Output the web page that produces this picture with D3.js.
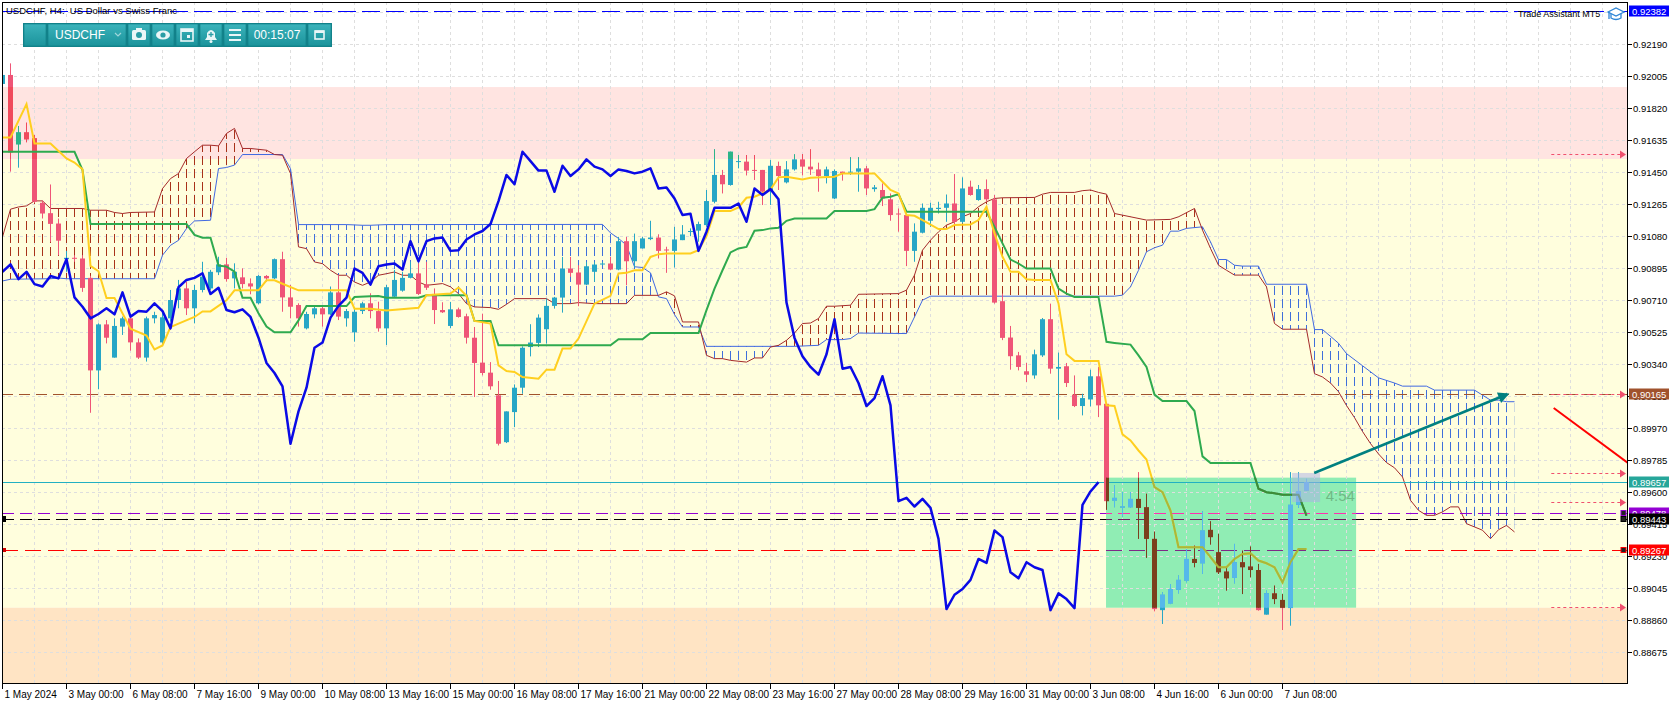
<!DOCTYPE html>
<html lang="en">
<head>
<meta charset="UTF-8">
<title>USDCHF H4</title>
<script src="https://d3js.org/d3.v7.min.js"></script>
<style>
  body { margin: 0; background: #fff; font-family: "Liberation Sans", Arial, sans-serif; }
  svg text { font-family: "Liberation Sans", Arial, sans-serif; }
</style>
</head>
<body>
<svg id="chart" width="1679" height="705"></svg>
<script>
// ---- candles (bar 0 = 1 May 16:00, H4) ----
const opens = [
0.91959,0.92011,0.91610,0.91679,0.91645,0.91272,0.91212,0.91152,0.90946,0.90954,
0.90950,0.90838,0.90303,0.90569,0.90377,0.90556,0.90604,0.90465,0.90377,0.90604,
0.90465,0.90604,0.90710,0.90777,0.90662,0.90768,0.90777,0.90870,0.90916,0.90835,
0.90841,0.90806,0.90691,0.90849,0.90835,0.90946,0.90725,0.90681,0.90546,0.90627,
0.90662,0.90627,0.90754,0.90604,0.90523,0.90646,0.90691,0.90646,0.90546,0.90729,
0.90764,0.90838,0.90864,0.90800,0.90745,0.90652,0.90560,0.90656,0.90616,0.90492,
0.90348,0.90290,0.90159,0.89888,0.90062,0.90203,0.90438,0.90462,0.90541,0.90676,
0.90724,0.90892,0.90869,0.90799,0.90873,0.90915,0.90921,0.90886,0.91050,0.90934,
0.91008,0.91062,0.91071,0.91002,0.90994,0.91056,0.91103,0.91111,0.91143,0.91278,
0.91433,0.91375,0.91510,0.91510,0.91462,0.91462,0.91346,0.91485,0.91390,0.91465,
0.91523,0.91481,0.91465,0.91427,0.91297,0.91452,0.91446,0.91452,0.91471,0.91351,
0.91346,0.91292,0.91210,0.91201,0.90994,0.91099,0.91168,0.91236,0.91243,0.91268,
0.91162,0.91365,0.91288,0.91351,0.91292,0.90703,0.90493,0.90390,0.90298,0.90274,
0.90390,0.90599,0.90313,0.90327,0.90163,0.90097,0.90135,0.90269,0.90110,0.89551,
0.89512,0.89512,0.89560,0.89512,0.89329,0.88917,0.88956,0.89035,0.89088,0.89213,
0.89188,0.89381,0.89252,0.89140,0.89103,0.89194,0.89169,0.89149,0.88891,0.89014,
0.88976,0.88929,0.89526,0.89609];
const highs = [
0.92015,0.92078,0.91716,0.91735,0.91664,0.91284,0.91378,0.91181,0.90994,0.90969,
0.90969,0.90850,0.90575,0.90594,0.90604,0.90614,0.90617,0.90488,0.90614,0.90642,
0.90642,0.90768,0.90826,0.90816,0.90797,0.90931,0.90884,0.90960,0.90954,0.90922,
0.90893,0.90835,0.90854,0.90854,0.90950,0.90989,0.90797,0.90691,0.90642,0.90671,
0.90671,0.90788,0.90854,0.90658,0.90662,0.90700,0.90749,0.90700,0.90797,0.90884,
0.90873,0.90931,0.90922,0.90931,0.90777,0.90697,0.90699,0.90666,0.90631,0.90554,
0.90631,0.90351,0.90242,0.90066,0.90222,0.90442,0.90570,0.90627,0.90718,0.90728,
0.90959,0.90959,0.90911,0.90930,0.90930,0.90930,0.90959,0.91075,0.91075,0.91094,
0.91075,0.91168,0.91090,0.91018,0.91133,0.91143,0.91124,0.91163,0.91346,0.91581,
0.91462,0.91567,0.91548,0.91548,0.91548,0.91462,0.91519,0.91510,0.91513,0.91552,
0.91554,0.91581,0.91504,0.91481,0.91465,0.91452,0.91535,0.91535,0.91485,0.91375,
0.91384,0.91326,0.91239,0.91210,0.91153,0.91268,0.91272,0.91278,0.91320,0.91438,
0.91419,0.91400,0.91375,0.91407,0.91317,0.90747,0.90560,0.90410,0.90346,0.90423,
0.90606,0.90689,0.90406,0.90346,0.90274,0.90168,0.90307,0.90323,0.90110,0.89638,
0.89599,0.89599,0.89715,0.89590,0.89371,0.89020,0.89068,0.89117,0.89271,0.89290,
0.89489,0.89431,0.89358,0.89165,0.89300,0.89261,0.89285,0.89184,0.89030,0.89059,
0.89010,0.89715,0.89715,0.89676];
const lows = [
0.91955,0.91452,0.91475,0.91622,0.91272,0.91181,0.91046,0.90969,0.90873,0.90931,
0.90757,0.90058,0.90194,0.90459,0.90377,0.90508,0.90417,0.90369,0.90354,0.90575,
0.90450,0.90585,0.90662,0.90623,0.90575,0.90754,0.90768,0.90854,0.90816,0.90777,
0.90777,0.90743,0.90685,0.90816,0.90831,0.90642,0.90604,0.90556,0.90540,0.90604,
0.90556,0.90623,0.90594,0.90556,0.90469,0.90629,0.90604,0.90527,0.90450,0.90723,
0.90758,0.90835,0.90739,0.90768,0.90571,0.90635,0.90548,0.90608,0.90458,0.90149,
0.90274,0.90191,0.89869,0.89883,0.89975,0.90168,0.90384,0.90438,0.90458,0.90660,
0.90637,0.90844,0.90674,0.90795,0.90815,0.90911,0.90882,0.90882,0.90795,0.90898,
0.91008,0.91056,0.90950,0.90867,0.90898,0.91056,0.91079,0.91047,0.91133,0.91269,
0.91326,0.91371,0.91471,0.91430,0.91404,0.91259,0.91259,0.91346,0.91384,0.91458,
0.91430,0.91433,0.91336,0.91384,0.91293,0.91400,0.91433,0.91336,0.91317,0.91336,
0.91253,0.91168,0.91105,0.90906,0.90931,0.91095,0.91133,0.91210,0.91162,0.91143,
0.91153,0.91313,0.91284,0.91278,0.90689,0.90478,0.90307,0.90303,0.90236,0.90255,
0.90381,0.90284,0.90018,0.90207,0.90091,0.90043,0.90095,0.90033,0.89497,0.89512,
0.89458,0.89508,0.89329,0.89219,0.88910,0.88837,0.88952,0.89014,0.89078,0.89165,
0.89126,0.89296,0.89126,0.89030,0.89072,0.89010,0.89107,0.88914,0.88891,0.88952,
0.88802,0.88827,0.89508,0.89609];
const closes = [
0.92011,0.91564,0.91679,0.91639,0.91278,0.91210,0.91150,0.91053,0.90954,0.90950,
0.90780,0.90303,0.90569,0.90492,0.90560,0.90604,0.90465,0.90377,0.90604,0.90623,
0.90610,0.90710,0.90777,0.90662,0.90768,0.90845,0.90873,0.90916,0.90831,0.90873,
0.90802,0.90788,0.90849,0.90835,0.90946,0.90725,0.90671,0.90604,0.90629,0.90662,
0.90627,0.90754,0.90614,0.90646,0.90642,0.90691,0.90646,0.90546,0.90784,0.90826,
0.90838,0.90864,0.90745,0.90781,0.90652,0.90639,0.90656,0.90612,0.90492,0.90346,
0.90288,0.90211,0.89879,0.90066,0.90203,0.90434,0.90464,0.90608,0.90676,0.90724,
0.90892,0.90867,0.90799,0.90905,0.90915,0.90921,0.90886,0.91050,0.90934,0.91050,
0.91066,0.91071,0.90994,0.90998,0.91060,0.91089,0.91109,0.91149,0.91282,0.91433,
0.91379,0.91567,0.91513,0.91458,0.91458,0.91336,0.91486,0.91427,0.91465,0.91523,
0.91481,0.91465,0.91427,0.91465,0.91456,0.91442,0.91452,0.91471,0.91355,0.91361,
0.91297,0.91201,0.91208,0.90994,0.91105,0.91243,0.91243,0.91243,0.91268,0.91162,
0.91355,0.91317,0.91351,0.91292,0.90695,0.90491,0.90385,0.90323,0.90278,0.90396,
0.90599,0.90313,0.90323,0.90230,0.90097,0.90143,0.90269,0.90101,0.89547,0.89566,
0.89516,0.89560,0.89508,0.89329,0.88923,0.89006,0.89039,0.89092,0.89213,0.89190,
0.89377,0.89339,0.89136,0.89101,0.89194,0.89165,0.89149,0.88917,0.89014,0.88981,
0.88929,0.89526,0.89603,0.89657];

// ---- ichimoku lines, read as [bar, price] vertices ----
const tenkan = [[0,0.91650],[1,0.91650],[3,0.91843],[4,0.91615],[6,0.91615],[8,0.91528],[9,0.91505],[10,0.91466],[11,0.90907],[12,0.90876],[13,0.90721],[14,0.90721],[16,0.90544],[18,0.90505],[19,0.90424],[20,0.90447],[21,0.90554],[22,0.90573],[24,0.90612],[25,0.90644],[26,0.90644],[28,0.90708],[29,0.90766],[32,0.90766],[33,0.90824],[34,0.90824],[35,0.90804],[37,0.90766],[43,0.90766],[44,0.90660],[46,0.90660],[48,0.90650],[52,0.90665],[53,0.90737],[56,0.90747],[57,0.90782],[58,0.90734],[59,0.90589],[61,0.90574],[62,0.90332],[63,0.90299],[64,0.90294],[65,0.90265],[67,0.90255],[68,0.90307],[69,0.90307],[70,0.90429],[71,0.90429],[72,0.90487],[74,0.90689],[76,0.90734],[77,0.90863],[78,0.90867],[79,0.90882],[80,0.90882],[81,0.90959],[82,0.90975],[83,0.90979],[86,0.90979],[87,0.90998],[88,0.91079],[89,0.91224],[91,0.91224],[92,0.91245],[93,0.91301],[94,0.91307],[95,0.91326],[96,0.91349],[97,0.91419],[98,0.91423],[100,0.91407],[101,0.91417],[104,0.91423],[105,0.91442],[109,0.91442],[110,0.91394],[111,0.91346],[112,0.91326],[113,0.91201],[114,0.91197],[115,0.91172],[117,0.91120],[118,0.91120],[119,0.91143],[121,0.91147],[122,0.91172],[123,0.91249],[124,0.91095],[125,0.90960],[126,0.90873],[127,0.90873],[128,0.90830],[129,0.90825],[131,0.90825],[132,0.90690],[133,0.90396],[134,0.90358],[137,0.90358],[138,0.90101],[139,0.90097],[140,0.89933],[141,0.89898],[142,0.89840],[143,0.89788],[144,0.89628],[145,0.89599],[146,0.89493],[147,0.89281],[150,0.89281],[151,0.89223],[152,0.89165],[153,0.89165],[154,0.89213],[155,0.89242],[156,0.89246],[157,0.89204],[158,0.89188],[159,0.89165],[160,0.89078],[161,0.89194],[162,0.89271],[163,0.89271]];
const kijun = [[0,0.91567],[9,0.91567],[10,0.91461],[11,0.91149],[23,0.91149],[24,0.91086],[25,0.91070],[26,0.91070],[27,0.90909],[28,0.90903],[29,0.90874],[30,0.90723],[31,0.90723],[32,0.90633],[33,0.90556],[34,0.90523],[36,0.90523],[37,0.90592],[38,0.90675],[43,0.90675],[44,0.90727],[46,0.90731],[47,0.90733],[48,0.90723],[52,0.90723],[53,0.90737],[58,0.90738],[59,0.90589],[61,0.90589],[62,0.90448],[76,0.90448],[77,0.90483],[80,0.90483],[81,0.90519],[87,0.90519],[88,0.90651],[89,0.90776],[90,0.90882],[91,0.90985],[92,0.91008],[93,0.91017],[94,0.91110],[95,0.91114],[96,0.91124],[97,0.91127],[98,0.91168],[99,0.91181],[103,0.91181],[104,0.91224],[108,0.91224],[109,0.91235],[110,0.91301],[111,0.91307],[112,0.91322],[113,0.91220],[123,0.91220],[124,0.91133],[125,0.91037],[126,0.90944],[127,0.90921],[128,0.90892],[131,0.90892],[132,0.90776],[133,0.90747],[134,0.90728],[137,0.90728],[138,0.90468],[139,0.90462],[141,0.90452],[142,0.90390],[143,0.90323],[144,0.90163],[145,0.90126],[148,0.90126],[149,0.90068],[150,0.89806],[151,0.89767],[156,0.89767],[157,0.89619],[158,0.89599],[159,0.89593],[160,0.89584],[162,0.89584],[163,0.89464]];
const spanA = [[0,0.90820],[1,0.90830],[6,0.90833],[7,0.90837],[8,0.90833],[19,0.90833],[20,0.90969],[21,0.91026],[22,0.91055],[23,0.91123],[24,0.91167],[26,0.91171],[27,0.91470],[28,0.91476],[29,0.91490],[30,0.91551],[35,0.91551],[36,0.91470],[37,0.91146],[43,0.91146],[45,0.91142],[46,0.91142],[48,0.91146],[75,0.91147],[76,0.91098],[77,0.91066],[78,0.91027],[79,0.90902],[80,0.90898],[81,0.90867],[82,0.90728],[83,0.90718],[84,0.90626],[85,0.90554],[87,0.90554],[88,0.90442],[99,0.90442],[102,0.90448],[103,0.90481],[105,0.90481],[106,0.90487],[107,0.90519],[113,0.90516],[114,0.90612],[115,0.90709],[116,0.90732],[139,0.90732],[140,0.90738],[141,0.90786],[142,0.90882],[143,0.90989],[144,0.91012],[145,0.91027],[146,0.91108],[147,0.91108],[148,0.91124],[150,0.91133],[151,0.91046],[152,0.90944],[153,0.90944],[154,0.90911],[155,0.90906],[157,0.90906],[158,0.90801],[163,0.90801],[164,0.90539],[165,0.90539],[166,0.90500],[167,0.90460],[168,0.90400],[170,0.90330],[172,0.90260],[174,0.90230],[175,0.90212],[178,0.90212],[179,0.90189],[184,0.90189],[185,0.90160],[186,0.90131],[187,0.90131],[188,0.90122],[189,0.90122]];
const spanB = [[0,0.91075],[1,0.91235],[2,0.91248],[3,0.91254],[4,0.91283],[5,0.91283],[6,0.91239],[10,0.91239],[11,0.91229],[13,0.91229],[14,0.91216],[15,0.91210],[16,0.91216],[19,0.91219],[20,0.91354],[21,0.91412],[22,0.91441],[23,0.91528],[24,0.91567],[25,0.91605],[26,0.91605],[27,0.91601],[28,0.91673],[29,0.91702],[30,0.91586],[31,0.91586],[33,0.91576],[34,0.91551],[35,0.91547],[36,0.91441],[37,0.91017],[38,0.91007],[39,0.90930],[40,0.90920],[41,0.90882],[42,0.90853],[43,0.90853],[44,0.90814],[45,0.90795],[46,0.90814],[47,0.90853],[48,0.90862],[49,0.90872],[50,0.90853],[51,0.90853],[52,0.90814],[53,0.90795],[55,0.90805],[56,0.90786],[57,0.90747],[58,0.90689],[59,0.90670],[61,0.90666],[62,0.90656],[63,0.90685],[64,0.90718],[68,0.90718],[69,0.90689],[71,0.90689],[72,0.90695],[74,0.90689],[78,0.90689],[79,0.90737],[82,0.90737],[83,0.90757],[84,0.90734],[85,0.90583],[87,0.90583],[88,0.90390],[89,0.90371],[90,0.90371],[91,0.90361],[93,0.90351],[94,0.90375],[95,0.90375],[96,0.90438],[97,0.90448],[98,0.90477],[99,0.90519],[100,0.90574],[101,0.90577],[102,0.90603],[103,0.90674],[104,0.90674],[106,0.90680],[107,0.90743],[112,0.90747],[113,0.90767],[114,0.90854],[115,0.90998],[116,0.91056],[117,0.91104],[118,0.91143],[119,0.91162],[120,0.91191],[121,0.91210],[122,0.91249],[123,0.91278],[124,0.91297],[125,0.91301],[129,0.91303],[130,0.91322],[131,0.91332],[134,0.91332],[135,0.91342],[136,0.91346],[137,0.91332],[138,0.91322],[139,0.91210],[143,0.91172],[146,0.91176],[147,0.91191],[149,0.91239],[150,0.91114],[151,0.91008],[152,0.90911],[153,0.90882],[154,0.90854],[157,0.90854],[158,0.90786],[159,0.90574],[160,0.90541],[163,0.90541],[164,0.90284],[165,0.90265],[166,0.90230],[167,0.90180],[168,0.90100],[169,0.90030],[170,0.89950],[171,0.89880],[172,0.89820],[173,0.89770],[174,0.89740],[175,0.89687],[176,0.89552],[177,0.89494],[178,0.89465],[179,0.89465],[180,0.89485],[181,0.89514],[182,0.89514],[183,0.89417],[184,0.89398],[185,0.89379],[186,0.89330],[187,0.89382],[188,0.89407],[189,0.89369]];
const chikouShift = 26;

// ---- axis labels ----
const priceTicks = [0.92190,0.92005,0.91820,0.91635,0.91450,0.91265,0.91080,0.90895,0.90710,0.90525,0.90340,0.90155,0.89970,0.89785,0.89600,0.89415,0.89230,0.89045,0.88860,0.88675];
const dateTicks = [[0,'1 May 2024'],[8,'3 May 00:00'],[16,'6 May 08:00'],[24,'7 May 16:00'],[32,'9 May 00:00'],[40,'10 May 08:00'],[48,'13 May 16:00'],[56,'15 May 00:00'],[64,'16 May 08:00'],[72,'17 May 16:00'],[80,'21 May 00:00'],[88,'22 May 08:00'],[96,'23 May 16:00'],[104,'27 May 00:00'],[112,'28 May 08:00'],[120,'29 May 16:00'],[128,'31 May 00:00'],[136,'3 Jun 08:00'],[144,'4 Jun 16:00'],[152,'6 Jun 00:00'],[160,'7 Jun 08:00']];

// ---- chart objects ----
const zoneLevels = [[0.91941,0.91525],[0.91525,0.88931],[0.88931,0.88470]];
const hLevels = [0.92382,0.90165,0.89657,0.89478,0.89443,0.89267];
const alertLevels = [0.91554,0.90167,0.89710,0.89542,0.88935];
const tradeBox = {from:137.94, to:169.2, top:0.89683, bottom:0.88931};
const markBox = {from:161.2, to:164.7, top:0.89710, bottom:0.89542};
const arrowLine = [[163.96,0.89710],[188.1,0.90165]];
const redTrend = [[193.9,0.90086],[205,0.89705]];
const timerText = '00:15:07';
const barTimer = '4:54';

const svg = d3.select('#chart');
const defs = svg.append('defs');
const L = 2, T = 2, R = 1627, B = 683;

const x = d3.scaleLinear().domain([0, 200]).range([2.5, 1602.5]);
const y = d3.scaleLinear().domain([0.88675, 0.92190]).range([652, 44]);

defs.append('clipPath').attr('id','plotClip').append('rect')
  .attr('x',L).attr('y',T).attr('width',R-L).attr('height',B-T);

const plot = svg.append('g').attr('clip-path','url(#plotClip)');

// zones
const zoneFill = ['#FFE4E1','#FFFEDD','#FFE4C4'];
plot.selectAll('rect.zone').data(zoneLevels).join('rect')
  .attr('x',L).attr('width',R-L)
  .attr('y',d=>y(d[0])).attr('height',d=>y(d[1])-y(d[0]))
  .attr('fill',(d,i)=>zoneFill[i]);

// trade box (background)
plot.append('rect')
  .attr('x',x(tradeBox.from)).attr('width',x(tradeBox.to)-x(tradeBox.from))
  .attr('y',y(tradeBox.top)).attr('height',y(tradeBox.bottom)-y(tradeBox.top))
  .attr('fill','#90EDB4');

// grid
const gridY = [0.92375].concat(priceTicks);
plot.selectAll('line.gy').data(gridY).join('line')
  .attr('x1',L).attr('x2',R)
  .attr('y1',d=>Math.round(y(d))+0.5).attr('y2',d=>Math.round(y(d))+0.5)
  .attr('stroke','#dedede').attr('stroke-dasharray','3,3');
plot.selectAll('line.gx').data(d3.range(0, 204, 4)).join('line')
  .attr('x1',d=>x(d)).attr('x2',d=>x(d))
  .attr('y1',T).attr('y2',B)
  .attr('stroke','#dedede').attr('stroke-dasharray','3,3');

// cloud hatch
function hatch(id, color) {
  const p = defs.append('pattern').attr('id',id).attr('patternUnits','userSpaceOnUse')
    .attr('x',2).attr('y',0).attr('width',8).attr('height',13);
  p.append('rect').attr('x',0).attr('y',0).attr('width',1).attr('height',9).attr('fill',color);
}
hatch('hatchBlue','#3F6FDB');
hatch('hatchBrown','#A8321A');
const below = d3.area().x(d=>x(d[0])).y0(d=>y(d[1])).y1(720);
const above = d3.area().x(d=>x(d[0])).y0(-20).y1(d=>y(d[1]));
defs.append('clipPath').attr('id','aboveB').append('path').attr('d',above(spanB));
defs.append('clipPath').attr('id','aboveA').append('path').attr('d',above(spanA));
const cloud = plot.append('g');
cloud.append('g').attr('clip-path','url(#aboveB)').append('path')
  .attr('d',below(spanA)).attr('fill','url(#hatchBlue)');
cloud.append('g').attr('clip-path','url(#aboveA)').append('path')
  .attr('d',below(spanB)).attr('fill','url(#hatchBrown)');
const line = d3.line().x(d=>x(d[0])).y(d=>y(d[1]));
cloud.append('path').attr('d',line(spanA)).attr('fill','none').attr('stroke','#4169E1').attr('stroke-width',1);
cloud.append('path').attr('d',line(spanB)).attr('fill','none').attr('stroke','#A52A2A').attr('stroke-width',1);

// horizontal object lines
const hStyle = [
  {c:'#0000FF', dash:'18,6'},
  {c:'#A0522D', dash:'11,6'},
  {c:'#22B0C2', dash:null},
  {c:'#9400D3', dash:'12,6'},
  {c:'#000000', dash:'12,6'},
  {c:'#FF0000', dash:'16,7'}
];
function drawHLines(g, colors) {
  g.selectAll('line.h').data(hLevels).join('line')
    .attr('x1',L).attr('x2',R)
    .attr('y1',d=>Math.round(y(d))+0.5).attr('y2',d=>Math.round(y(d))+0.5)
    .attr('stroke',(d,i)=>colors[i])
    .attr('stroke-dasharray',(d,i)=>hStyle[i].dash);
}
drawHLines(plot.append('g'), hStyle.map(s=>s.c));

// candles
const bars = d3.range(opens.length);
function drawCandles(g, bull, bear) {
  const col = i => closes[i] >= opens[i] ? bull : bear;
  g.selectAll('line.wick').data(bars).join('line')
    .attr('x1',i=>x(i)).attr('x2',i=>x(i))
    .attr('y1',i=>y(highs[i])).attr('y2',i=>y(lows[i]))
    .attr('stroke',col).attr('stroke-width',1);
  g.selectAll('rect.body').data(bars).join('rect')
    .attr('x',i=>x(i)-2.5).attr('width',5)
    .attr('y',i=>y(Math.max(opens[i],closes[i])))
    .attr('height',i=>Math.max(1, Math.abs(y(opens[i])-y(closes[i]))))
    .attr('fill',col);
}
drawCandles(plot.append('g'), '#27A6C6', '#EF5577');

// candles over the pink zone look different
defs.append('clipPath').attr('id','pinkClip').append('rect')
  .attr('x',L).attr('width',R-L)
  .attr('y',y(zoneLevels[0][0])).attr('height',y(zoneLevels[0][1])-y(zoneLevels[0][0]));
drawCandles(plot.append('g').attr('clip-path','url(#pinkClip)'), '#2DB488', '#F04A5C');

// ichimoku lines
function drawLines(g, cT, cK) {
  g.append('path').attr('d',line(kijun)).attr('fill','none').attr('stroke',cK).attr('stroke-width',2);
  g.append('path').attr('d',line(tenkan)).attr('fill','none').attr('stroke',cT).attr('stroke-width',2);
}
drawLines(plot.append('g'), '#FFCF1F', '#2FAA4F');
const chikou = bars.filter(i=>i>=chikouShift).map(i=>[i-chikouShift, closes[i]]);
plot.append('path').attr('d',line(chikou)).attr('fill','none')
  .attr('stroke','#0A0AE6').attr('stroke-width',2.5).attr('stroke-linejoin','round');

// trade box overlay colours
defs.append('clipPath').attr('id','tradeClip').append('rect')
  .attr('x',x(tradeBox.from)).attr('width',x(tradeBox.to)-x(tradeBox.from))
  .attr('y',y(tradeBox.top)).attr('height',y(tradeBox.bottom)-y(tradeBox.top));
const inBox = plot.append('g').attr('clip-path','url(#tradeClip)');
drawHLines(inBox.append('g'), ['#0000FF','#A0522D','#22B0C2','#FF2FB0','#6B1E5E','#7E2A86']);
drawCandles(inBox.append('g'), '#55B8EA', '#7B3F1D');
drawLines(inBox.append('g'), '#A7B83C', '#3E8C38');

// mark box
plot.append('rect')
  .attr('x',x(markBox.from)).attr('width',x(markBox.to)-x(markBox.from))
  .attr('y',y(markBox.top)).attr('height',y(markBox.bottom)-y(markBox.top))
  .attr('fill','#A9AEE8').attr('opacity',0.5);

// bar timer text
plot.append('text').attr('x',x(165.4)).attr('y',y(0.89545)-1)
  .attr('font-size',15).attr('fill','#6FB985').text(barTimer);

// arrow
defs.append('marker').attr('id','arrowHead').attr('viewBox','0 0 10 10')
  .attr('refX',8).attr('refY',5).attr('markerWidth',5).attr('markerHeight',4.5)
  .attr('orient','auto').attr('markerUnits','strokeWidth')
  .append('path').attr('d','M0,0 L10,5 L0,10 z').attr('fill','#008080');
plot.append('path').attr('d',line(arrowLine)).attr('stroke','#008080')
  .attr('stroke-width',2.5).attr('fill','none').attr('marker-end','url(#arrowHead)');

// red trend line
plot.append('path').attr('d',line(redTrend)).attr('stroke','#FF0000')
  .attr('stroke-width',2).attr('fill','none');

// alert arrows
const alertG = plot.append('g');
alertG.selectAll('line').data(alertLevels).join('line')
  .attr('x1',x(193.6)).attr('x2',1621)
  .attr('y1',d=>Math.round(y(d))+0.5).attr('y2',d=>Math.round(y(d))+0.5)
  .attr('stroke','#F0506E').attr('stroke-dasharray','3,3');
alertG.selectAll('path').data(alertLevels).join('path')
  .attr('d',d=>{const yy=Math.round(y(d))+0.5; return `M1620,${yy-4} L1626,${yy} L1620,${yy+4} z`;})
  .attr('fill','#F0506E');

// end markers
const markIdx = [3,4,5];
const markCol = ['#9400D3','#000000','#FF0000'];
markIdx.forEach((k,j)=>{
  const yy = Math.round(y(hLevels[k]));
  plot.append('rect').attr('x',1621).attr('y',yy-2.5).attr('width',5).attr('height',5)
    .attr('fill','#222').attr('stroke',markCol[j]).attr('stroke-width',1);
});
plot.append('rect').attr('x',2).attr('y',Math.round(y(hLevels[4]))-3).attr('width',4).attr('height',6).attr('fill','#000');
plot.append('rect').attr('x',2).attr('y',Math.round(y(hLevels[5]))-2).attr('width',4).attr('height',4).attr('fill','#D00000');

// title & trade assistant
svg.append('text').attr('x',6).attr('y',14).attr('font-size',9.5).attr('fill','#000')
  .attr('xml:space','preserve').text('USDCHF, H4:  US Dollar vs Swiss Franc');
svg.append('text').attr('x',1518).attr('y',17).attr('font-size',9).attr('fill','#000').text('Trade Assistant MT5');
const cap = svg.append('g').attr('transform','translate(1616,13)');
cap.append('path').attr('d','M-8,-1 L0,-5 L8,-1 L0,3 z').attr('fill','#fff').attr('stroke','#2F86D6').attr('stroke-width',1.3);
cap.append('path').attr('d','M-5,1 L-5,5 Q0,8 5,5 L5,1').attr('fill','none').attr('stroke','#2F86D6').attr('stroke-width',1.3);
cap.append('line').attr('x1',-7).attr('x2',-7).attr('y1',-1).attr('y2',6).attr('stroke','#2F86D6').attr('stroke-width',1.3);

// frame
svg.append('rect').attr('x',L+0.5).attr('y',T+0.5).attr('width',R-L).attr('height',B-T)
  .attr('fill','none').attr('stroke','#000');

// price axis
const axisG = svg.append('g');
axisG.selectAll('line').data(priceTicks).join('line')
  .attr('x1',R).attr('x2',R+5)
  .attr('y1',d=>Math.round(y(d))+0.5).attr('y2',d=>Math.round(y(d))+0.5).attr('stroke','#000');
axisG.selectAll('text').data(priceTicks).join('text')
  .attr('x',R+6).attr('y',d=>y(d)+3.5).attr('font-size',9.5).attr('fill','#000')
  .text(d=>d.toFixed(5));

// price label boxes
const labelBg = ['#0000FF','#A0522D','#26A69A','#9400D3','#000000','#FF0000'];
const lab = svg.append('g');
hLevels.forEach((v,i)=>{
  const yy = Math.round(y(v));
  lab.append('rect').attr('x',R+2).attr('y',yy-5.5).attr('width',40).attr('height',11).attr('fill',labelBg[i]);
  lab.append('text').attr('x',R+5).attr('y',yy+3.5).attr('font-size',9.5).attr('fill','#fff').text(v.toFixed(5));
});

// time axis
const tG = svg.append('g');
tG.selectAll('line').data(dateTicks).join('line')
  .attr('x1',d=>x(d[0])).attr('x2',d=>x(d[0])).attr('y1',B).attr('y2',B+6).attr('stroke','#000');
tG.selectAll('text').data(dateTicks).join('text')
  .attr('x',d=>x(d[0])+2).attr('y',B+15).attr('font-size',10).attr('fill','#000').text(d=>d[1]);

// toolbar
const grad = defs.append('linearGradient').attr('id','btnGrad').attr('x1',0).attr('x2',0).attr('y1',0).attr('y2',1);
grad.append('stop').attr('offset','0%').attr('stop-color','#3BB3BB');
grad.append('stop').attr('offset','100%').attr('stop-color','#1B939B');
const tb = svg.append('g');
tb.append('rect').attr('x',23).attr('y',23).attr('width',309).attr('height',24).attr('fill','#14858D');
const btns = [[24,22],[48,78],[128,22],[152,22],[176,22],[200,22],[224,22],[248,58],[308,23]];
tb.selectAll('rect.b').data(btns).join('rect')
  .attr('x',d=>d[0]).attr('y',24).attr('width',d=>d[1]).attr('height',22)
  .attr('fill','url(#btnGrad)').attr('stroke','#0F7C84').attr('stroke-width',0.6);
tb.append('text').attr('x',55).attr('y',39).attr('font-size',12).attr('fill','#fff').text('USDCHF');
tb.append('path').attr('d','M115,33 L118,36 L121,33').attr('fill','none').attr('stroke','#9fd6da').attr('stroke-width',1.2);
const ic = '#EAF6F7';
// camera
tb.append('rect').attr('x',132).attr('y',30).attr('width',14).attr('height',10).attr('rx',1.5).attr('fill',ic);
tb.append('rect').attr('x',136).attr('y',28).attr('width',6).attr('height',3).attr('fill',ic);
tb.append('circle').attr('cx',139).attr('cy',35).attr('r',3).attr('fill','#2A9DA5');
// eye
tb.append('ellipse').attr('cx',163).attr('cy',35).attr('rx',7).attr('ry',4.5).attr('fill',ic);
tb.append('circle').attr('cx',163).attr('cy',35).attr('r',2.6).attr('fill','#2A9DA5');
// calendar
tb.append('rect').attr('x',181).attr('y',29).attr('width',12).attr('height',12).attr('fill','none').attr('stroke',ic).attr('stroke-width',1.6);
tb.append('rect').attr('x',181).attr('y',29).attr('width',12).attr('height',3).attr('fill',ic);
tb.append('rect').attr('x',187).attr('y',35).attr('width',3).attr('height',3).attr('fill',ic);
// bell
tb.append('path').attr('d','M205,40 L217,40 L215,37 L215,33 Q211,27 207,33 L207,37 z').attr('fill',ic);
tb.append('circle').attr('cx',211).attr('cy',41.5).attr('r',1.5).attr('fill',ic);
tb.append('path').attr('d','M211,32 L211,37 M208.5,34.5 L213.5,34.5').attr('stroke','#2A9DA5').attr('stroke-width',1.3);
// menu
[30,35,40].forEach(v=>tb.append('rect').attr('x',229).attr('y',v-1).attr('width',12).attr('height',2).attr('fill',ic));
tb.append('text').attr('x',277).attr('y',39).attr('text-anchor','middle').attr('font-size',12).attr('fill','#fff').text(timerText);
// restore
tb.append('rect').attr('x',315).attr('y',31).attr('width',9).attr('height',8).attr('fill','none').attr('stroke',ic).attr('stroke-width',1.6);
tb.append('rect').attr('x',315).attr('y',30.5).attr('width',9).attr('height',2.5).attr('fill',ic);
</script>
</body>
</html>
